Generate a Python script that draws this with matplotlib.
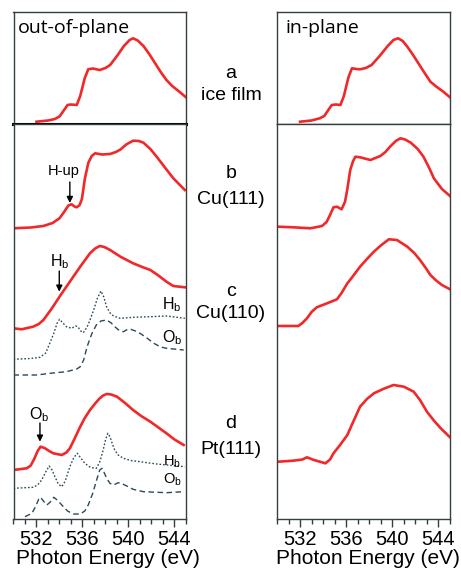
import matplotlib
matplotlib.use("Agg")
import matplotlib.pyplot as plt
from matplotlib.ticker import MultipleLocator

plt.rcParams['font.family'] = ['Liberation Sans', 'DejaVu Sans']
plt.rcParams['mathtext.fontset'] = 'custom'
plt.rcParams['mathtext.rm'] = 'Liberation Sans'
plt.rcParams['mathtext.it'] = 'Liberation Sans'

# ---------------- data (photon energy in eV, intensity in arb. units) ----------------
# a: ice film (top panels)
Ea_out = [532.0, 533.0, 533.6, 534.0, 534.4, 534.7, 535.0, 535.5, 535.8, 536.2, 536.5, 536.9, 537.5, 538.0,
          538.4, 539.0, 539.6, 540.1, 540.4, 540.8, 541.3, 541.8, 542.3, 542.8, 543.3, 543.8, 544.4, 545.0]
Ia_out = [2.3, 3.5, 5, 7.5, 14, 19, 19.5, 19, 28, 46, 54.7, 55.5, 54, 56,
          59, 68, 78, 84, 85.7, 83.5, 78, 70, 61, 52, 44, 38, 32.5, 26.7]
Ea_in = [532.0, 533.0, 533.7, 534.1, 534.45, 534.75, 535.1, 535.5, 535.8, 536.2, 536.5, 536.9, 537.2, 537.7,
         538.2, 538.9, 539.6, 540.1, 540.5, 540.9, 541.3, 541.8, 542.3, 542.8, 543.3, 543.8, 544.4, 545.0]
Ia_in = [2.3, 3.5, 5.7, 8, 14, 19, 19.5, 19, 28, 47, 55.7, 55, 54.7, 56,
         59, 68, 78, 84, 85.7, 83, 77.3, 69, 60, 51, 42.3, 37.5, 32.5, 26.7]

# b: Cu(111)
Eb_out = [530.0, 531.5, 532.6, 533.4, 534.0, 534.4, 534.77, 535.06, 535.3, 535.5, 535.75, 535.95, 536.2,
          536.5, 536.8, 537.1, 537.7, 538.4, 538.9, 539.3, 539.8, 540.4, 540.9, 541.3, 541.9, 542.45,
          543.2, 543.9, 544.9]
Ib_out = [290.7, 291.5, 293, 296, 300.7, 307, 313.5, 314.7, 312.5, 311.7, 314, 320, 340,
          356, 363, 365.7, 364.5, 365, 367, 369.5, 374.5, 378.3, 378, 376.3, 370, 362.3,
          351, 340.7, 329]
Eb_in = [530.1, 531.4, 532.9, 533.9, 534.3, 534.6, 534.9, 535.2, 535.6, 535.9, 536.1, 536.35, 536.6,
         536.8, 537.2, 538.1, 538.96, 539.4, 539.8, 540.3, 540.7, 541.1, 541.6, 542.2, 542.7, 543.2,
         543.6, 544.3, 545.0]
Ib_in = [292.3, 291.7, 290.7, 293, 297, 304, 311.7, 312.3, 309.7, 317.3, 330, 349, 358,
         362.3, 361.7, 359, 363, 367, 372.3, 378, 380.7, 379.5, 376.3, 370, 362.3, 351,
         340.7, 330, 323]

# c: Cu(110)
Ec_out = [530.0, 530.7, 531.7, 532.2, 532.6, 533.3, 534.0, 534.9, 535.8, 536.65, 537.1, 537.5, 537.9,
          538.4, 539.3, 540.4, 541.2, 541.9, 542.6, 543.3, 543.9, 544.9]
Ic_out = [190.7, 189.7, 192.3, 195, 199, 210, 222.3, 237.3, 252.3, 265.7, 270.5, 273, 272,
          269, 262.3, 255.7, 252, 249, 243.5, 237.3, 233, 231.7]
Ec_Hb = [530.0, 531.5, 532.3, 532.8, 533.2, 533.5, 533.8, 534.0, 534.3, 534.6, 535.06, 535.4, 535.6,
         535.85, 536.07, 536.4, 536.65, 537.0, 537.3, 537.6, 537.85, 538.1, 538.4, 538.7, 539.26,
         540.4, 541.9, 543.3, 544.9]
Ic_Hb = [159.7, 160.5, 161.7, 166, 177, 185.7, 196, 199.7, 196, 192.3, 190.7, 193, 192.3,
         188, 186.3, 192, 199, 210, 221, 228, 222, 212, 206, 203, 200.7,
         201.7, 202.3, 203, 200.7]
Ec_Ob = [530.0, 532.0, 533.2, 534.6, 535.5, 535.8, 536.1, 536.4, 536.8, 537.2, 537.6, 538.1, 538.5,
         538.8, 539.2, 539.55, 539.9, 540.2, 540.6, 541.0, 541.6, 542.2, 542.8, 543.3, 544.8]
Ic_Ob = [144, 144, 145.7, 147.3, 150, 152.3, 159, 172.3, 185, 194, 198, 199, 196,
         192.3, 188.5, 187.3, 189.5, 189.7, 188, 185.7, 181, 175.7, 172, 170.7, 169]
Ec_in = [530.1, 531.85, 532.2, 532.6, 533.0, 533.45, 534.3, 535.2, 535.6, 536.1, 536.6, 537.2, 537.8,
         538.4, 539.0, 539.7, 540.4, 541.3, 541.9, 542.4, 542.9, 543.3, 543.8, 544.3, 545.0]
Ic_in = [193, 193, 196, 200.7, 207, 211.7, 215.5, 219.7, 226, 235.7, 243, 252.3, 260,
         267.3, 273.5, 279.7, 279, 272.3, 266, 259, 251, 244, 238.5, 234, 229.7]

# d: Pt(111)
Ed_out = [530.0, 531.15, 531.5, 531.8, 532.1, 532.35, 532.7, 533.1, 533.46, 534.2, 534.6, 534.9, 535.3,
          535.8, 536.2, 536.65, 537.1, 537.5, 537.8, 538.1, 538.5, 539.0, 539.7, 540.4, 541.1, 541.9,
          542.6, 543.3, 544.0, 544.8]
Id_out = [49, 50.7, 53.5, 60, 68, 72.3, 71, 68, 65.7, 64, 66.5, 70.7, 80,
          92.3, 101, 109, 115.5, 120.7, 123.5, 125, 124.5, 122.3, 116, 109, 103, 97.3,
          91.5, 85.7, 79.5, 74]
Ed_Hb = [530.0, 531.7, 532.1, 532.45, 532.8, 533.1, 533.35, 533.6, 533.9, 534.2, 534.5, 534.9, 535.25,
         535.55, 535.85, 536.2, 536.7, 537.2, 537.5, 537.8, 538.0, 538.2, 538.4, 538.6, 538.8, 539.1,
         539.55, 540.2, 541.0, 542.45, 544.9]
Id_Hb = [30.7, 31.7, 34, 39, 47, 53, 49, 42.3, 35, 32.3, 38, 52.3, 61.5,
         65.7, 61, 55.7, 51.5, 50.7, 57, 69, 79, 85.7, 82, 75, 69, 64,
         60.7, 58.5, 57.3, 55, 52.3]
Ed_Ob = [531.0, 531.6, 531.9, 532.2, 532.35, 532.6, 532.9, 533.2, 533.5, 533.8, 534.2, 534.7, 535.2,
         535.8, 536.2, 536.5, 536.9, 537.2, 537.5, 537.7, 537.9, 538.1, 538.4, 538.7, 539.1, 539.5,
         539.85, 540.4, 541.3, 543.3, 544.8]
Id_Ob = [2.3, 5.7, 12, 20, 21.7, 18, 14, 17, 21.7, 19, 14, 8, 5,
         5, 8, 14, 26, 38, 49, 50.7, 46, 40.7, 35.5, 34, 36.3, 35,
         33, 29.7, 27.3, 26.3, 27.3]
Ed_in = [530.1, 531.4, 532.2, 532.6, 533.2, 534.2, 534.6, 534.9, 535.5, 536.1, 536.6, 537.2, 537.8,
         538.4, 539.2, 540.1, 541.0, 541.85, 542.4, 543.0, 543.6, 544.2, 545.0]
Id_in = [57.3, 58.3, 59.5, 61.7, 59, 55.7, 59.5, 65.7, 74.5, 84, 97, 112.3, 120,
         125.7, 130, 134, 132.3, 127.3, 119, 107.3, 98.5, 90.7, 81.7]

xticks_major = [532, 536, 540, 544]
xlabel = "Photon Energy (eV)"

# ---------------- styling ----------------
W, H = 461, 569
RED = '#f0282a'
REF = '#2c4a58'
FRAME = '#34403f'
fig = plt.figure(figsize=(W / 100, H / 100), dpi=100)

def px_axes(x0, y0, x1, y1):
    return fig.add_axes([x0 / W, 1 - y1 / H, (x1 - x0) / W, (y1 - y0) / H])

axL_top = px_axes(13.5, 12, 186, 124)
axL_bot = px_axes(13.5, 124, 186, 519)
axR_top = px_axes(277, 12, 450, 124)
axR_bot = px_axes(277, 124, 450, 519)

for ax in (axL_top, axL_bot, axR_top, axR_bot):
    ax.set_xlim(530, 545)
    ax.set_yticks([])
    for s in ax.spines.values():
        s.set_color(FRAME)
        s.set_linewidth(1.0)
for ax in (axL_top, axR_top):
    ax.set_ylim(0, 112)
    ax.set_xticks([])
for ax, lx in ((axL_bot, 0.545), (axR_bot, 0.525)):
    ax.set_ylim(0, 395)
    ax.set_xticks(xticks_major)
    ax.xaxis.set_minor_locator(MultipleLocator(1))
    ax.tick_params(axis='x', which='major', length=6, width=1, color=FRAME,
                   labelsize=14.5, pad=2)
    ax.tick_params(axis='x', which='minor', length=3.5, width=1, color=FRAME)
    ax.set_xlabel(xlabel, fontsize=15, va='center')
    ax.xaxis.set_label_coords(lx, -39.5 / 395)

axL_top.spines['bottom'].set_linewidth(2.2)
axL_top.spines['bottom'].set_color('black')
axL_top.spines['bottom'].set_zorder(5)

lw_red = 1.9
axL_top.plot(Ea_out, Ia_out, color=RED, lw=lw_red)
axR_top.plot(Ea_in, Ia_in, color=RED, lw=lw_red)

axL_bot.plot(Eb_out, Ib_out, color=RED, lw=lw_red)
axL_bot.plot(Ec_out, Ic_out, color=RED, lw=lw_red)
axL_bot.plot(Ed_out, Id_out, color=RED, lw=lw_red)
axL_bot.plot(Ec_Hb, Ic_Hb, color=REF, lw=1.0, ls=(0, (1.2, 1.4)))
axL_bot.plot(Ec_Ob, Ic_Ob, color=REF, lw=1.0, ls=(0, (4, 2.5)))
axL_bot.plot(Ed_Hb, Id_Hb, color=REF, lw=1.0, ls=(0, (1.2, 1.4)))
axL_bot.plot(Ed_Ob, Id_Ob, color=REF, lw=1.0, ls=(0, (4, 2.5)))

axR_bot.plot(Eb_in, Ib_in, color=RED, lw=lw_red)
axR_bot.plot(Ec_in, Ic_in, color=RED, lw=lw_red)
axR_bot.plot(Ed_in, Id_in, color=RED, lw=lw_red)

# curve labels
for y, t, fs in [(214, "H$_\\mathrm{b}$", 11.5), (181, "O$_\\mathrm{b}$", 11.5),
                 (57, "H$_\\mathrm{b}$", 10.5), (39, "O$_\\mathrm{b}$", 10.5)]:
    axL_bot.text(543.8, y, t, fontsize=fs, ha='center', va='center')

# arrows
arrowprops = dict(arrowstyle='-|>', color='black', lw=1.0, mutation_scale=9, shrinkA=0, shrinkB=0)
axL_bot.annotate('', xy=(534.9, 316), xytext=(534.9, 337), arrowprops=arrowprops)
axL_bot.text(534.4, 347.5, "H-up", fontsize=10.5, ha='center', va='center')
axL_bot.annotate('', xy=(533.98, 227.3), xytext=(533.98, 248), arrowprops=arrowprops)
axL_bot.text(534.05, 257.5, "H$_\\mathrm{b}$", fontsize=11.5, ha='center', va='center')
axL_bot.annotate('', xy=(532.3, 77.3), xytext=(532.3, 96), arrowprops=arrowprops)
axL_bot.text(532.2, 104.5, "O$_\\mathrm{b}$", fontsize=11.5, ha='center', va='center')

# panel titles
fig.text(18 / W, 1 - 33 / H, "out-of-plane", fontsize=14, family=['Open Sans', 'DejaVu Sans'],
         ha='left', va='baseline')
fig.text(285 / W, 1 - 33 / H, "in-plane", fontsize=14, family=['Open Sans', 'DejaVu Sans'],
         ha='left', va='baseline')

# middle labels
for (y1, l1), (y2, l2) in [((73, "a"), (95, "ice film")),
                           ((173, "b"), (200, "Cu(111)")),
                           ((291.7, "c"), (313, "Cu(110)")),
                           ((423, "d"), (450, "Pt(111)"))]:
    fig.text(231 / W, 1 - y1 / H, l1, fontsize=14, ha='center', va='center')
    fig.text(231 / W, 1 - y2 / H, l2, fontsize=14, ha='center', va='center')

fig.savefig("out.png", dpi=100)
